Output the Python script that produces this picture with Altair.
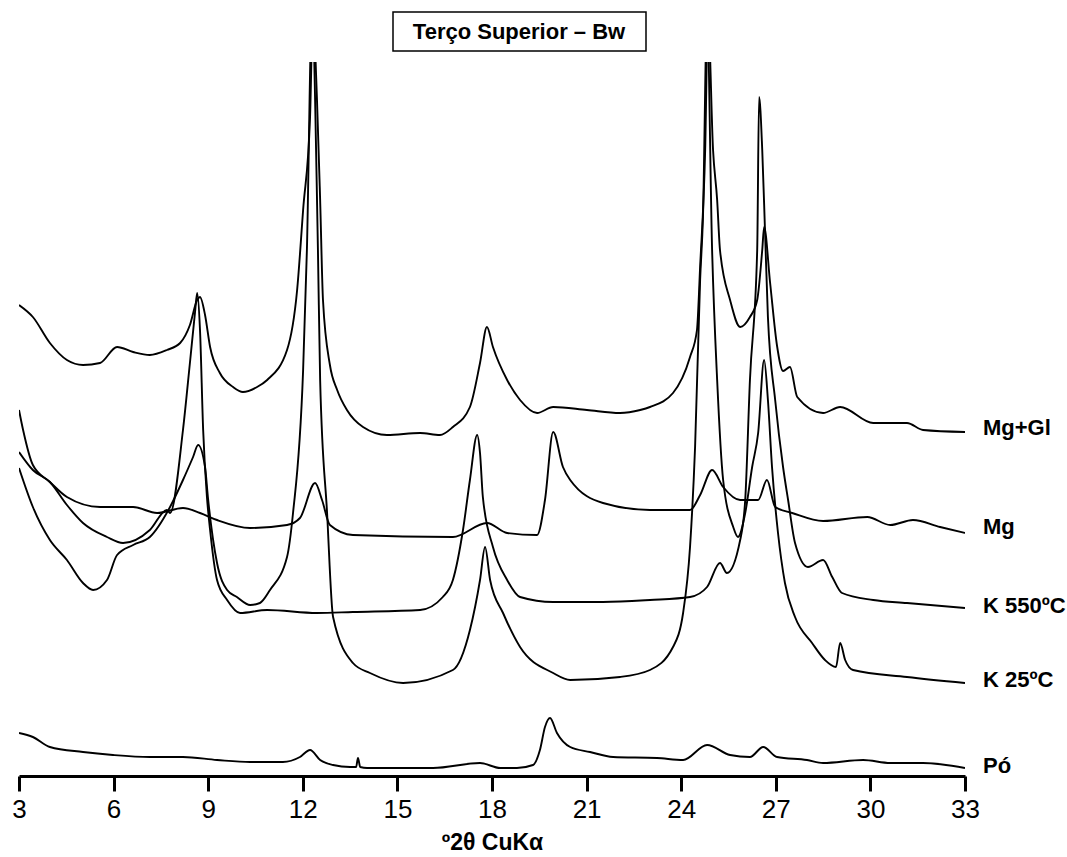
import altair as alt
import pandas as pd

# ---------------- data ----------------
# two-theta (degrees) and relative intensity (arbitrary units) for each trace
series_names = ["Mg+Gl", "Mg", "K 550ºC", "K 25ºC", "Pó"]

tt_mggl = [3.00, 3.44, 3.98, 4.52, 5.03, 5.57, 6.11, 6.62, 7.15, 7.69, 8.11, 8.42, 8.65, 8.74, 8.90,
           9.06, 9.37, 9.79, 10.10, 10.55, 10.87, 11.50, 11.82, 12.01, 12.23, 12.32, 12.45, 12.55,
           12.64, 12.86, 13.09, 13.40, 13.91, 14.67, 15.72, 16.35, 16.76, 17.30, 17.62, 17.84, 18.03,
           18.48, 18.89, 19.43, 19.94, 21.01, 22.06, 22.70, 23.01, 23.74, 24.28, 24.50, 24.60, 24.76,
           24.85, 25.01, 25.14, 25.23, 25.55, 25.87, 26.18, 26.41, 26.57, 26.63, 26.82, 27.04, 27.23,
           27.45, 27.68, 28.50, 29.04, 30.09, 31.16, 31.67, 33.00]
int_mggl = [471, 459, 433, 416, 411, 413, 429, 424, 421, 426, 433, 451, 476, 479, 461,
            429, 403, 389, 384, 389, 396, 426, 486, 566, 659, 760, 676, 576,
            476, 411, 386, 366, 349, 341, 343, 341, 349, 369, 413, 449, 429,
            396, 376, 363, 369, 366, 363, 366, 369, 383, 419, 446, 509, 626,
            760, 626, 576, 526, 476, 449, 459, 476, 526, 549, 493, 430, 405,
            409, 379, 363, 369, 353, 353, 346, 344]

tt_mg = [3.00, 3.13, 3.44, 3.98, 4.52, 5.57, 6.62, 7.38, 8.20, 8.74, 9.28, 10.33, 11.50, 11.91, 12.39,
         12.61, 12.86, 13.59, 16.76, 17.84, 18.48, 19.43, 19.68, 19.94, 20.25, 20.48, 21.52, 23.01,
         24.28, 24.60, 24.98, 25.33, 25.87, 26.44, 26.72, 26.98, 27.52, 28.50, 29.90, 30.63, 31.35,
         32.21, 33.00]
int_mg = [366, 346, 311, 294, 279, 269, 269, 263, 268, 263, 256, 248, 251, 258, 293,
          276, 251, 241, 239, 253, 243, 241, 276, 344, 309, 296, 273, 266,
          266, 281, 306, 289, 276, 276, 296, 269, 263, 255, 259, 251, 256,
          249, 243]

tt_k550 = [3.00, 3.44, 3.98, 4.52, 5.03, 5.79, 6.30, 7.15, 7.69, 7.79, 8.20, 8.42, 8.58, 8.65, 8.74,
           8.84, 8.96, 9.06, 9.28, 9.60, 10.01, 10.87, 12.45, 13.59, 15.72, 16.44, 16.76, 17.08, 17.30,
           17.53, 17.62, 17.71, 18.03, 18.48, 18.89, 19.94, 21.52, 23.01, 24.28, 24.82, 25.23, 25.45,
           25.87, 26.03, 26.18, 26.41, 26.47, 26.57, 26.66, 26.75, 26.98, 27.23, 27.39, 27.61, 28.02,
           28.50, 28.79, 29.10, 30.09, 31.16, 33.00]
int_k550 = [324, 306, 294, 271, 253, 239, 233, 246, 266, 263, 346, 413, 463, 483, 446,
            346, 279, 246, 196, 176, 163, 166, 163, 164, 166, 179, 196, 246, 296,
            341, 323, 279, 229, 196, 179, 174, 174, 176, 179, 189, 213, 203,
            236, 276, 396, 526, 679, 626, 543, 459, 376, 309, 276, 233, 209,
            216, 199, 183, 176, 173, 168]

tt_k25 = [3.00, 3.44, 3.98, 4.52, 5.03, 5.35, 5.79, 6.11, 6.62, 7.15, 7.79, 8.20, 8.52, 8.68, 8.90,
          8.99, 9.28, 9.60, 9.91, 10.33, 10.64, 10.96, 11.50, 11.69, 12.01, 12.13, 12.29, 12.48, 12.55,
          12.77, 12.96, 13.59, 14.13, 15.18, 16.76, 17.30, 17.62, 17.78, 17.94, 18.35, 18.89, 19.94,
          20.48, 22.06, 23.01, 23.74, 24.06, 24.28, 24.44, 24.60, 24.69, 24.82, 24.98, 25.14, 25.33,
          25.65, 25.80, 26.03, 26.25, 26.44, 26.63, 26.75, 26.88, 27.07, 27.29, 27.61, 28.15, 28.56,
          28.91, 29.04, 29.20, 29.45, 31.16, 33.00]
int_k25 = [308, 269, 236, 216, 193, 186, 196, 221, 231, 239, 269, 296, 319, 331, 309,
           279, 213, 186, 179, 171, 173, 186, 219, 263, 406, 526, 760, 526, 396,
           263, 159, 113, 103, 93, 106, 146, 196, 229, 196, 163, 129, 103,
           96, 99, 106, 129, 163, 229, 329, 496, 559, 760, 526, 396, 296,
           249, 239, 263, 309, 343, 416, 376, 309, 243, 193, 159, 133, 116,
           109, 133, 116, 106, 99, 93]

tt_po = [3.00, 3.44, 3.98, 5.03, 5.98, 7.15, 8.20, 9.28, 10.33, 11.37, 11.91, 12.23, 12.55, 12.96,
         13.50, 13.69, 13.75, 13.82, 14.04, 16.13, 17.62, 18.26, 18.79, 19.30, 19.52, 19.68, 19.84,
         20.06, 20.48, 21.11, 21.84, 23.23, 24.06, 24.82, 25.55, 26.18, 26.60, 27.04, 27.99, 28.50,
         29.77, 30.63, 31.67, 33.00]
int_po = [43, 39, 29, 24, 21, 19, 19, 16, 14, 14, 19, 26, 16, 11,
          9, 9, 18, 9, 8, 8, 13, 8, 8, 11, 26, 49, 58,
          43, 29, 24, 19, 18, 16, 31, 21, 19, 29, 19, 16, 13,
          16, 13, 13, 8]

tick_values = [3, 6, 9, 12, 15, 18, 21, 24, 27, 30, 33]
chart_title = "Terço Superior – Bw"
x_title = "º2θ CuKα"

# ---------------- build tables ----------------
traces = [(series_names[0], tt_mggl, int_mggl),
          (series_names[1], tt_mg, int_mg),
          (series_names[2], tt_k550, int_k550),
          (series_names[3], tt_k25, int_k25),
          (series_names[4], tt_po, int_po)]
rows = []
for name, xs, ys in traces:
    assert len(xs) == len(ys), name
    rows += [{"series": name, "two_theta": x, "intensity": y} for x, y in zip(xs, ys)]
df = pd.DataFrame(rows)

# label for each trace placed at the end of the trace, at the mean level of its tail
tail = df[df["two_theta"] >= 31]
labels = (tail.groupby("series", sort=False)
          .agg(two_theta=("two_theta", "max"), intensity=("intensity", "mean"))
          .reset_index())

x_scale = alt.Scale(domain=[3, 33], nice=False, zero=False)
y_scale = alt.Scale(domain=[0, 714], nice=False, zero=False)

lines = alt.Chart(df).mark_line(
    color="black", strokeWidth=1.9, clip=True, interpolate="monotone"
).encode(
    x=alt.X("two_theta:Q", scale=x_scale,
            axis=alt.Axis(values=tick_values, title=x_title, labelFlush=False, grid=False)),
    y=alt.Y("intensity:Q", scale=y_scale, axis=None),
    detail="series:N",
)

label_text = alt.Chart(labels).mark_text(
    align="left", baseline="middle", dx=18, font="Liberation Sans",
    fontSize=22, fontWeight="bold", color="black"
).encode(
    x=alt.X("two_theta:Q", scale=x_scale),
    y=alt.Y("intensity:Q", scale=y_scale),
    text="series:N",
)

title_df = pd.DataFrame({"t": [chart_title]})
title_box = alt.Chart(title_df).mark_rect(
    fill="white", stroke="black", strokeWidth=1.5
).encode(
    x=alt.value(374), x2=alt.value(627), y=alt.value(-50), y2=alt.value(-11)
)
title_text = alt.Chart(title_df).mark_text(
    align="center", baseline="middle", font="Liberation Sans",
    fontSize=22, fontWeight="bold", color="black"
).encode(
    x=alt.value(500), y=alt.value(-30), text="t:N"
)

chart = alt.layer(lines, label_text, title_box, title_text).properties(
    width=946, height=714,
    autosize=alt.AutoSizeParams(type="none"),
    padding={"left": 19, "top": 62, "right": 102, "bottom": 81},
).configure_view(stroke=None).configure_axis(
    domainColor="black", domainWidth=3,
    tickColor="black", tickWidth=3, tickSize=15,
    labelFont="Liberation Sans", labelFontSize=26, labelColor="black", labelPadding=5,
    titleFont="Liberation Sans", titleFontSize=23, titleFontWeight="bold",
    titleColor="black", titlePadding=9,
)

chart.save("out.html", embed_options={"renderer": "svg", "actions": False})
